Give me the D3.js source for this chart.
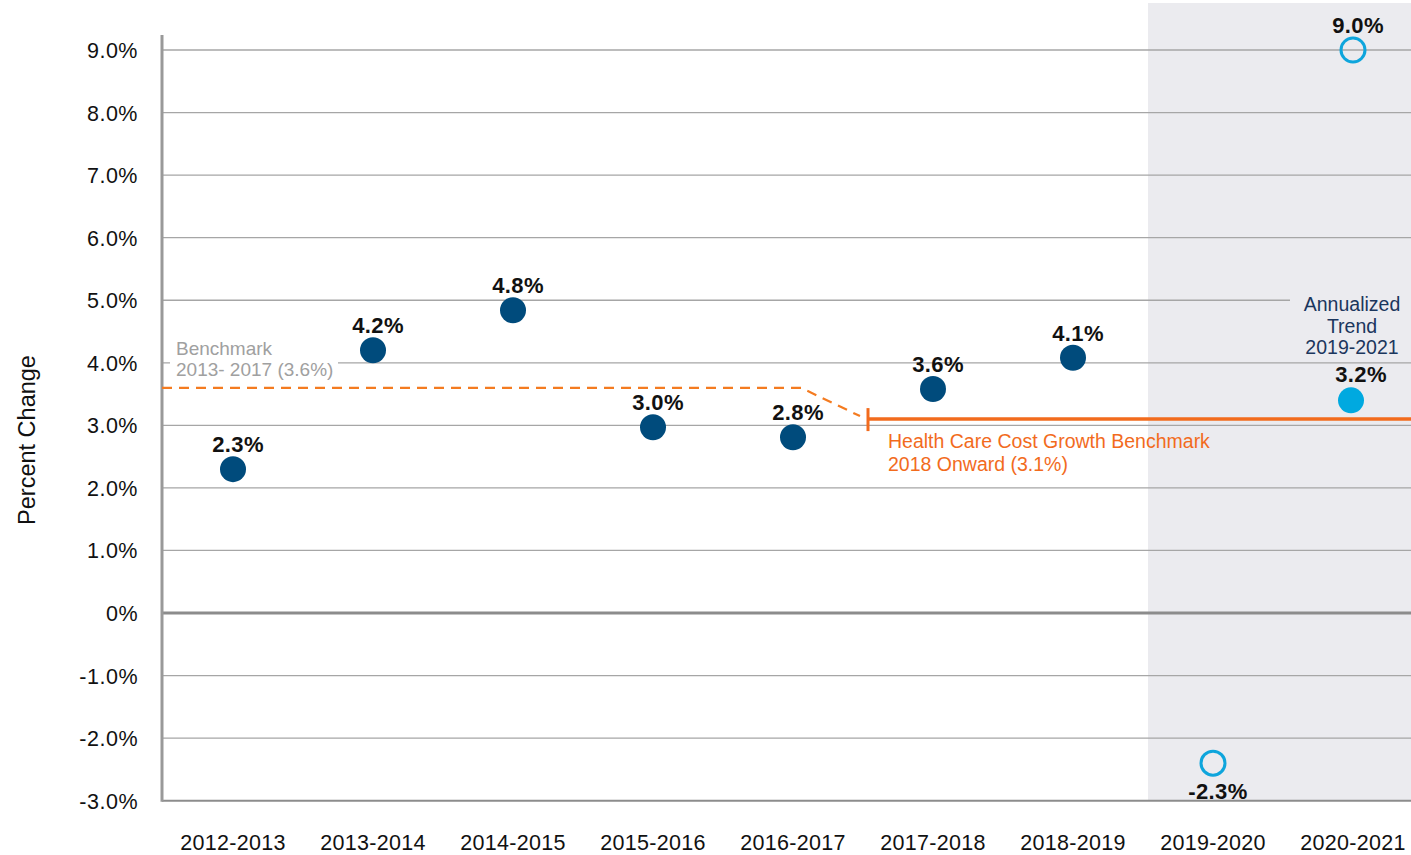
<!DOCTYPE html>
<html lang="en">
<head>
<meta charset="UTF-8">
<title>percent change</title>
<script src="https://cdn.jsdelivr.net/npm/d3@7"></script>
<style>
	body { margin: 0; background: #fff; }
	svg text { font-family: "Liberation Sans", Arial, sans-serif; }
</style>
</head>
<body>
<svg id="chart" width="1411" height="855"></svg>
<script>
	// data
	var periods = ["2012-2013", "2013-2014", "2014-2015", "2015-2016", "2016-2017",
		"2017-2018", "2018-2019", "2019-2020", "2020-2021"];
	var values = [2.3, 4.2, 4.84, 2.97, 2.81, 3.58, 4.08, -2.4, 9.0];
	var valueLabels = ["2.3%", "4.2%", "4.8%", "3.0%", "2.8%", "3.6%", "4.1%", "-2.3%", "9.0%"];
	var hollow = [false, false, false, false, false, false, false, true, true];
	var trendValue = 3.4, trendLabel = "3.2%";
	var yTicks = [9, 8, 7, 6, 5, 4, 3, 2, 1, 0, -1, -2, -3];
	var benchOld = 3.6, benchNew = 3.1;

	var width = 1411, height = 855;
	var svg = d3.select("#chart");

	var x = d3.scalePoint().domain(periods).range([233, 1353]);
	var y = d3.scaleLinear().domain([-3, 9]).range([800.7, 50]);
	var left = 162;

	// shaded region for 2019-2021
	var shadeX = x("2019-2020") - 65;
	svg.append("rect")
		.attr("x", shadeX).attr("y", 3)
		.attr("width", width - shadeX).attr("height", y(-3) - 3)
		.attr("fill", "#ebebef");

	// gridlines
	svg.append("g").selectAll("line")
		.data(yTicks)
		.enter().append("line")
		.attr("x1", left).attr("x2", width)
		.attr("y1", function(d) { return y(d); })
		.attr("y2", function(d) { return y(d); })
		.attr("stroke", function(d) { return d === 0 || d === -3 ? "#8c8c8c" : "#a6a6a6"; })
		.attr("stroke-width", function(d) { return d === 0 ? 3 : (d === -3 ? 2 : 1.3); });

	// y axis line
	svg.append("line")
		.attr("x1", left).attr("x2", left)
		.attr("y1", 35).attr("y2", y(-3) + 1)
		.attr("stroke", "#999").attr("stroke-width", 3);

	// tick labels
	svg.append("g").selectAll("text")
		.data(yTicks)
		.enter().append("text")
		.attr("x", 138)
		.attr("y", function(d) { return y(d) + 8; })
		.attr("text-anchor", "end")
		.attr("font-size", 21.5)
		.attr("letter-spacing", 0.5)
		.attr("fill", "#111")
		.text(function(d) { return d === 0 ? "0%" : d.toFixed(1) + "%"; });

	svg.append("g").selectAll("text")
		.data(periods)
		.enter().append("text")
		.attr("x", function(d) { return x(d); })
		.attr("y", 850)
		.attr("text-anchor", "middle")
		.attr("font-size", 21.5)
		.attr("letter-spacing", 0.3)
		.attr("fill", "#111")
		.text(function(d) { return d; });

	svg.append("text")
		.attr("transform", "translate(35,440) rotate(-90)")
		.attr("text-anchor", "middle")
		.attr("font-size", 23.5)
		.attr("fill", "#111")
		.text("Percent Change");

	// benchmark label (white box over gridline)
	svg.append("rect")
		.attr("x", 170).attr("y", 337).attr("width", 168).attr("height", 44)
		.attr("fill", "#fff");
	var bl = svg.append("text")
		.attr("font-size", 19)
		.attr("fill", "#a0a0a0");
	bl.append("tspan").attr("x", 176).attr("y", 355).text("Benchmark");
	bl.append("tspan").attr("x", 176).attr("y", 376).text("2013- 2017 (3.6%)");

	// benchmark lines
	var dashEnd = x("2016-2017") + 8;
	var tickX = x("2017-2018") - 65;
	svg.append("path")
		.attr("d", d3.line()([[left, y(benchOld)], [dashEnd, y(benchOld)], [tickX - 8, y(benchNew) - 3]]))
		.attr("fill", "none")
		.attr("stroke", "#f47b20")
		.attr("stroke-width", 2.2)
		.attr("stroke-dasharray", "10,7");
	svg.append("line")
		.attr("x1", tickX).attr("x2", width)
		.attr("y1", y(benchNew)).attr("y2", y(benchNew))
		.attr("stroke", "#f26b1d").attr("stroke-width", 3.5);
	svg.append("line")
		.attr("x1", tickX).attr("x2", tickX)
		.attr("y1", y(benchNew) - 11).attr("y2", y(benchNew) + 12)
		.attr("stroke", "#f26b1d").attr("stroke-width", 3);

	var hl = svg.append("text")
		.attr("font-size", 19.5)
		.attr("fill", "#f26b1d");
	hl.append("tspan").attr("x", 888).attr("y", 448).text("Health Care Cost Growth Benchmark");
	hl.append("tspan").attr("x", 888).attr("y", 471).text("2018 Onward (3.1%)");

	// annualized trend label
	svg.append("rect")
		.attr("x", 1290).attr("y", 292).attr("width", width - 1290).attr("height", 64)
		.attr("fill", "#ebebef");
	var al = svg.append("text")
		.attr("font-size", 19.5)
		.attr("fill", "#1b365d")
		.attr("text-anchor", "middle");
	al.append("tspan").attr("x", 1352).attr("y", 311).text("Annualized");
	al.append("tspan").attr("x", 1352).attr("y", 333).text("Trend");
	al.append("tspan").attr("x", 1352).attr("y", 354).text("2019-2021");

	// points
	var pts = periods.map(function(p, i) {
		return { p: p, v: values[i], label: valueLabels[i], hollow: hollow[i] };
	});
	svg.append("g").selectAll("circle")
		.data(pts)
		.enter().append("circle")
		.attr("cx", function(d) { return x(d.p); })
		.attr("cy", function(d) { return y(d.v); })
		.attr("r", function(d) { return d.hollow ? 12 : 13; })
		.attr("fill", function(d) { return d.hollow ? "none" : "#004b7c"; })
		.attr("stroke", function(d) { return d.hollow ? "#0ea5dc" : "none"; })
		.attr("stroke-width", 3);

	svg.append("g").selectAll("text")
		.data(pts)
		.enter().append("text")
		.attr("x", function(d) { return x(d.p) + 5; })
		.attr("y", function(d) { return d.v < 0 ? y(d.v) + 36 : y(d.v) - 17; })
		.attr("text-anchor", "middle")
		.attr("font-size", 22)
		.attr("font-weight", "bold")
		.attr("letter-spacing", 0.4)
		.attr("fill", "#111")
		.text(function(d) { return d.label; });

	// annualized trend point
	var tx = x("2020-2021") - 2;
	svg.append("circle")
		.attr("cx", tx).attr("cy", y(trendValue)).attr("r", 13)
		.attr("fill", "#00a9e0");
	svg.append("text")
		.attr("x", tx + 10).attr("y", y(trendValue) - 18)
		.attr("text-anchor", "middle")
		.attr("font-size", 22)
		.attr("font-weight", "bold")
		.attr("letter-spacing", 0.4)
		.attr("fill", "#111")
		.text(trendLabel);
</script>
</body>
</html>
